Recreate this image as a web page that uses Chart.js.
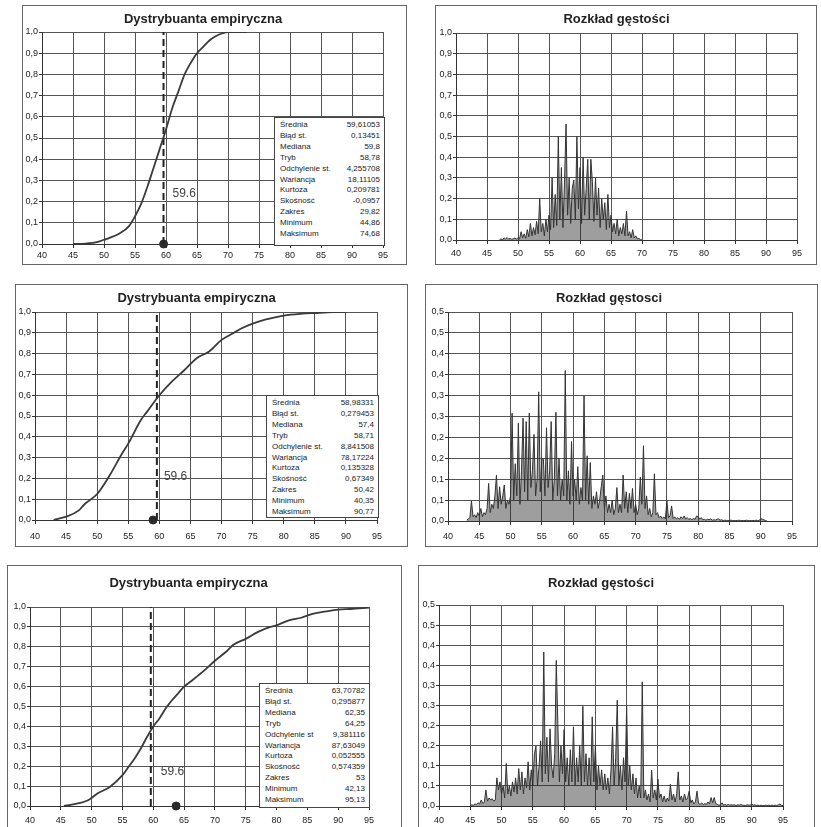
<!DOCTYPE html>
<html>
<head>
<meta charset="utf-8">
<script src="https://cdn.jsdelivr.net/npm/chart.js@4.4.0/dist/chart.umd.min.js"></script>
<style>
  body { margin: 0; background: #fff; }
  #page { position: relative; width: 821px; height: 827px; overflow: hidden; }
  .box { position: absolute; border: 1px solid #666; background: #fff; }
  .box canvas { display: block; }
  .stats { position: absolute; border: 1px solid #444; background: #fff; box-sizing: border-box;
           padding: 2px 4px 0 5px; font: 8px Arial, "Liberation Sans", sans-serif; color: #222; }
  .stats table { width: 100%; border-collapse: collapse; }
  .stats td { padding: 0; height: 10.9px; line-height: 10.9px; white-space: nowrap; }
  .stats td.v { text-align: right; }
</style>
</head>
<body>
<div id="page"></div>
<script>
const FONT = 'Arial, "Liberation Sans", sans-serif';

// Dystrybuanta empiryczna - punkty
const cdf1X = [45, 47, 49, 50, 51, 52.5, 54, 55, 56, 57, 58, 59, 60, 61, 62, 63, 64, 65, 66, 67, 68, 69, 70, 73];
const cdf1Y = [0, 0.002, 0.01, 0.02, 0.03, 0.05, 0.083, 0.13, 0.19, 0.27, 0.36, 0.45, 0.54, 0.64, 0.72, 0.8, 0.855, 0.9, 0.93, 0.96, 0.98, 0.993, 1, 1];
const cdf2X = [43, 45, 47, 48, 50, 52, 54, 55, 57, 58, 60, 62, 64, 66, 68, 70, 72, 73, 75, 77, 80, 83, 85, 88, 90];
const cdf2Y = [0, 0.016, 0.045, 0.077, 0.125, 0.214, 0.32, 0.367, 0.48, 0.52, 0.6, 0.665, 0.72, 0.778, 0.81, 0.866, 0.9, 0.918, 0.944, 0.963, 0.983, 0.992, 0.995, 0.999, 1];
const cdf3X = [45.5, 47, 49.5, 51, 53, 55, 56, 57, 58, 59, 60, 61, 62, 63, 64, 65, 66, 68, 70, 72, 73, 75, 77, 79, 80, 82, 84, 86, 88, 90, 92, 95];
const cdf3Y = [0, 0.008, 0.03, 0.064, 0.097, 0.155, 0.197, 0.24, 0.29, 0.348, 0.4, 0.44, 0.49, 0.53, 0.565, 0.6, 0.624, 0.674, 0.73, 0.78, 0.81, 0.84, 0.875, 0.9, 0.908, 0.933, 0.946, 0.967, 0.978, 0.987, 0.99, 0.997];

// Rozkład gęstości - wartości co 0,25 od podanego początku
const densStep = 0.25;
const dens1Start = 47;
const dens1 = [0, .005, 0, .01, .005, .012, .004, .008, .003, .006,
  .01, .004, .012, .005, .04, .01, .03, .008, .05, .015,
  .08, .02, .06, .025, .09, .03, .2, .04, .08, .02,
  .1, .04, .12, .05, .3, .06, .22, .07, .5, .1,
  .35, .06, .28, .56, .12, .3, .08, .25, .29, .1,
  .5, .15, .35, .08, .4, .12, .25, .39, .1, .39,
  .28, .09, .3, .12, .25, .06, .2, .1, .18, .05,
  .22, .06, .12, .04, .08, .03, .1, .02, .06, .03,
  .08, .02, .14, .02, .04, .01, .05, .01, .02, .005,
  .008, .002, 0];
const dens2Start = 43;
const dens2 = [.002, .005, .008, .048, .01, .015, .008, .02, .012, .03, .01, .02,
  .015, .03, .09, .02, .04, .03, .06, .11, .03, .082, .04, .06,
  .086, .03, .05, .04, .06, .258, .05, .137, .06, .234, .04, .12,
  .246, .07, .238, .05, .258, .08, .12, .207, .06, .1, .309, .07,
  .15, .148, .06, .223, .08, .12, .238, .05, .1, .26, .06, .15,
  .05, .1, .06, .36, .05, .12, .04, .19, .06, .1, .05, .13,
  .04, .08, .05, .3, .05, .156, .04, .14, .03, .06, .04, .07,
  .03, .05, .082, .11, .03, .06, .02, .04, .02, .05, .015, .03,
  .08, .02, .04, .02, .11, .03, .07, .02, .066, .03, .078, .02,
  .04, .015, .03, .105, .04, .18, .03, .06, .015, .03, .01, .02,
  .113, .015, .02, .008, .012, .006, .01, .005, .048, .008, .012, .036,
  .006, .01, .005, .008, .004, .01, .006, .012, .005, .008, .004, .006,
  .003, .006, .004, .012, .01, .005, .008, .003, .004, .002, .004, .003,
  .005, .002, .003, .002, .004, .005, .002, .003, .001, .002, .001, .001,
  .001, .002, .001, .001, .001, .001, .002, .001, .001, .001, .001, .002,
  .001, .001, .001, .001, .001, .002, .001, .001, .006, .004, .003, .001,
  0];
const dens3Start = 45;
const dens3 = [.001, .003, .002, .005, .004, .008, .005, .015, .006, .01, .04, .012,
  .02, .015, .018, .012, .015, .07, .04, .06, .03, .05, .02, .106,
  .03, .05, .025, .06, .035, .07, .03, .093, .04, .085, .03, .07,
  .045, .11, .04, .09, .05, .13, .149, .05, .1, .162, .06, .383,
  .08, .171, .06, .192, .1, .07, .13, .362, .205, .06, .15, .08,
  .19, .06, .12, .05, .14, .06, .197, .05, .12, .06, .15, .05,
  .248, .06, .13, .05, .12, .05, .222, .06, .15, .04, .1, .05,
  .09, .04, .08, .04, .07, .03, .09, .197, .05, .12, .263, .05,
  .1, .04, .12, .06, .248, .05, .1, .04, .08, .03, .07, .02,
  .05, .02, .309, .02, .04, .015, .03, .01, .089, .02, .04, .015,
  .067, .02, .03, .01, .025, .01, .02, .012, .054, .015, .03, .01,
  .03, .085, .015, .025, .01, .03, .015, .02, .037, .008, .015, .005,
  .01, .037, .006, .004, .008, .003, .006, .004, .01, .005, .021, .008,
  .021, .006, .004, .002, .003, .008, .002, .004, .002, .004, .002, .003,
  .002, .003, .001, .003, .002, .004, .002, .002, .001, .003, .002, .002,
  .005, .002, .003, .001, .002, .001, .002, .001, .001, .002, .001, .002,
  .001, .002, .001, .002, .001, .003, .005, .002, .001];

// Etykiety osi
const cdfYLabels = ['0,0', '0,1', '0,2', '0,3', '0,4', '0,5', '0,6', '0,7', '0,8', '0,9', '1,0'];
const densYLabels = ['0,0', '0,1', '0,1', '0,2', '0,2', '0,3', '0,3', '0,4', '0,4', '0,5', '0,5'];

// Linia 59.6 i średnie
const markX = 59.6;
const markText = '59.6';
const means = [59.61053, 58.98331, 63.70782];

// Statystyki opisowe
const statLabels = ['Średnia', 'Błąd st.', 'Mediana', 'Tryb', 'Odchylenie st.', 'Wariancja', 'Kurtoza', 'Skośność', 'Zakres', 'Minimum', 'Maksimum'];
const statLabels3 = ['Średnia', 'Błąd st.', 'Mediana', 'Tryb', 'Odchylenie st', 'Wariancja', 'Kurtoza', 'Skośność', 'Zakres', 'Minimum', 'Maksimum'];
const stats1 = ['59,61053', '0,13451', '59,8', '58,78', '4,255708', '18,11105', '0,209781', '-0,0957', '29,82', '44,86', '74,68'];
const stats2 = ['58,98331', '0,279453', '57,4', '58,71', '8,841508', '78,17224', '0,135328', '0,67349', '50,42', '40,35', '90,77'];
const stats3 = ['63,70782', '0,295877', '62,35', '64,25', '9,381116', '87,63049', '0,052555', '0,574359', '53', '42,13', '95,13'];

// Położenie paneli: ramka, obszar wykresu, środek tytułu, środek etykiet osi X
const panels = {
  cdf1:  { box: [22, 5, 407, 265],   area: [42, 32, 383, 244],   titleY: 19,  labelY: 256 },
  dens1: { box: [435, 5, 817, 265],  area: [456, 33, 797, 240],  titleY: 19,  labelY: 254 },
  cdf2:  { box: [15, 284, 408, 547], area: [35, 312, 377, 520],  titleY: 298, labelY: 537 },
  dens2: { box: [425, 284, 818, 547],area: [448, 312, 792, 521], titleY: 298, labelY: 537 },
  cdf3:  { box: [7, 565, 402, 840],  area: [30, 607, 369, 806],  titleY: 583, labelY: 821 },
  dens3: { box: [418, 565, 815, 840],area: [439, 605, 783, 806], titleY: 583, labelY: 821 }
};

const page = document.getElementById('page');

const markLabelPlugin = {
  id: 'markLabel',
  afterDatasetsDraw(chart, args, opts) {
    if (!opts.text) return;
    const { ctx, scales: { x, y } } = chart;
    ctx.save();
    ctx.font = '12px ' + FONT;
    ctx.fillStyle = '#444';
    ctx.textBaseline = 'middle';
    ctx.fillText(opts.text, x.getPixelForValue(opts.x) + opts.dx, y.getPixelForValue(opts.y));
    ctx.restore();
  }
};
Chart.register(markLabelPlugin);

function pts(xs, ys) {
  return xs.map((x, i) => ({ x: x, y: ys[i] }));
}
function densPts(start, vals) {
  return vals.map((v, i) => ({ x: start + i * densStep, y: v }));
}

function place(p) {
  const [l, t, r, b] = p.box;
  const cw = r - l - 2, ch = b - t - 2;
  const div = document.createElement('div');
  div.className = 'box';
  div.style.left = l + 'px';
  div.style.top = t + 'px';
  div.style.width = cw + 'px';
  div.style.height = ch + 'px';
  const cv = document.createElement('canvas');
  cv.width = cw;
  cv.height = ch;
  div.appendChild(cv);
  page.appendChild(div);
  return { cv, cw, ch, ox: l + 1, oy: t + 1 };
}

function makeChart(p, title, datasets, yMax, yStep, yLabels, mark) {
  const { cv, cw, ch, ox, oy } = place(p);
  const [al, at, ar, ab] = p.area;
  const tY = p.titleY - oy;
  const axisFont = { family: FONT, size: 9 };
  return new Chart(cv, {
    type: 'line',
    data: { datasets: datasets },
    options: {
      responsive: false,
      animation: false,
      devicePixelRatio: 1,
      layout: { padding: { left: 0, right: cw - (ar - ox), top: 0, bottom: 0 } },
      plugins: {
        legend: { display: false },
        tooltip: { enabled: false },
        title: {
          display: true, text: title, color: '#222',
          font: { family: FONT, size: 13, weight: 'bold' },
          padding: { top: tY - 7.8, bottom: (at - oy) - tY - 7.8 }
        },
        markLabel: mark || {}
      },
      scales: {
        x: {
          type: 'linear', min: 40, max: 95,
          ticks: { stepSize: 5, autoSkip: false, maxRotation: 0, color: '#222', font: axisFont,
                   padding: p.labelY - ab - 4 - 5.4 },
          grid: { color: '#555', tickLength: 4, tickColor: '#333' },
          border: { color: '#333' },
          afterFit: s => { s.height = ch - (ab - oy); }
        },
        y: {
          min: 0, max: yMax,
          ticks: { stepSize: yStep, color: '#222', font: axisFont, padding: 1,
                   callback: (v, i) => yLabels[i] },
          grid: { color: '#555', tickLength: 3, tickColor: '#333' },
          border: { color: '#333' },
          afterFit: s => { s.width = al - ox; }
        }
      }
    }
  });
}

function cdfSets(xs, ys, mean) {
  return [
    { data: pts(xs, ys), borderColor: '#3a3a3a', borderWidth: 1.8, pointRadius: 0, cubicInterpolationMode: 'monotone' },
    { data: [{ x: markX, y: 0 }, { x: markX, y: 1 }], borderColor: '#222', borderWidth: 2, borderDash: [7, 4], pointRadius: 0 },
    { data: [{ x: mean, y: 0 }], showLine: false, pointRadius: 4, pointBackgroundColor: '#2a2a2a', pointBorderColor: '#2a2a2a', clip: false }
  ];
}
function densSets(start, vals) {
  return [{ data: densPts(start, vals), borderColor: '#333', borderWidth: 1, pointRadius: 0,
            fill: 'origin', backgroundColor: 'rgba(40,40,40,0.45)' }];
}

function addStats(rect, labels, values) {
  const [l, t, r, b] = rect;
  const d = document.createElement('div');
  d.className = 'stats';
  d.style.left = l + 'px';
  d.style.top = t + 'px';
  d.style.width = (r - l) + 'px';
  d.style.height = (b - t) + 'px';
  const tb = document.createElement('table');
  labels.forEach((lab, i) => {
    const tr = document.createElement('tr');
    const a = document.createElement('td');
    a.textContent = lab;
    const v = document.createElement('td');
    v.className = 'v';
    v.textContent = values[i];
    tr.appendChild(a);
    tr.appendChild(v);
    tb.appendChild(tr);
  });
  d.appendChild(tb);
  page.appendChild(d);
}

makeChart(panels.cdf1, 'Dystrybuanta empiryczna', cdfSets(cdf1X, cdf1Y, means[0]), 1, 0.1, cdfYLabels,
  { text: markText, x: markX, y: 0.236, dx: 9 });
makeChart(panels.dens1, 'Rozkład gęstości', densSets(dens1Start, dens1), 1, 0.1, cdfYLabels);
makeChart(panels.cdf2, 'Dystrybuanta empiryczna', cdfSets(cdf2X, cdf2Y, means[1]), 1, 0.1, cdfYLabels,
  { text: markText, x: markX, y: 0.21, dx: 7 });
makeChart(panels.dens2, 'Rozkład gęstosci', densSets(dens2Start, dens2), 0.5, 0.05, densYLabels);
makeChart(panels.cdf3, 'Dystrybuanta empiryczna', cdfSets(cdf3X, cdf3Y, means[2]), 1, 0.1, cdfYLabels,
  { text: markText, x: markX, y: 0.17, dx: 10 });
makeChart(panels.dens3, 'Rozkład gęstości', densSets(dens3Start, dens3), 0.5, 0.05, densYLabels);

addStats([274, 117, 385, 246], statLabels, stats1);
addStats([266, 395, 379, 518], statLabels, stats2);
addStats([259, 683, 370, 808], statLabels3, stats3);
</script>
</body>
</html>
